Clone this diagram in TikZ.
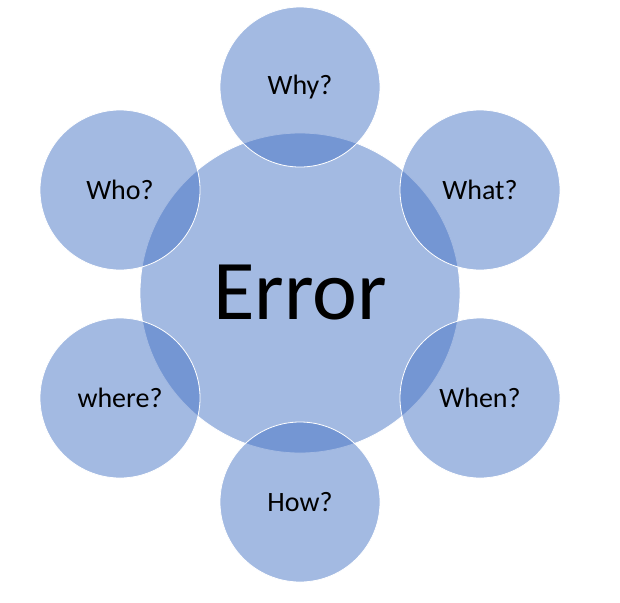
\documentclass[tikz,border=0pt]{standalone}
\usepackage{fontspec}
\setmainfont{Carlito}
\definecolor{obl}{RGB}{68,114,196}
\begin{document}
\begin{tikzpicture}[x=1pt,y=-1pt,
  bub/.style={circle,fill=obl,fill opacity=0.49,draw=white,line width=0.8pt,text opacity=1,inner sep=0pt},
  lab/.style={font=\fontsize{28}{30}\selectfont}]
\useasboundingbox (0,0) rectangle (620,602);
\node[bub,minimum size=320] (err) at (300,293) {};
\node[bub,minimum size=160] (why) at (300,87) {};
\node[bub,minimum size=160] (what) at (480,190) {};
\node[bub,minimum size=160] (when) at (480,398) {};
\node[bub,minimum size=160] (how) at (300,502) {};
\node[bub,minimum size=160] (where) at (120,398) {};
\node[bub,minimum size=160] (who) at (120,190) {};
\node[font=\fontsize{85}{90}\selectfont] (t0) at (err) {Error};
\node[lab] (t1) at (why) {Why?};
\node[lab] (t2) at (what) {What?};
\node[lab] (t3) at (when) {When?};
\node[lab] (t4) at (how) {How?};
\node[lab] (t5) at (where) {where?};
\node[lab] (t6) at (who) {Who?};
\end{tikzpicture}
\end{document}
